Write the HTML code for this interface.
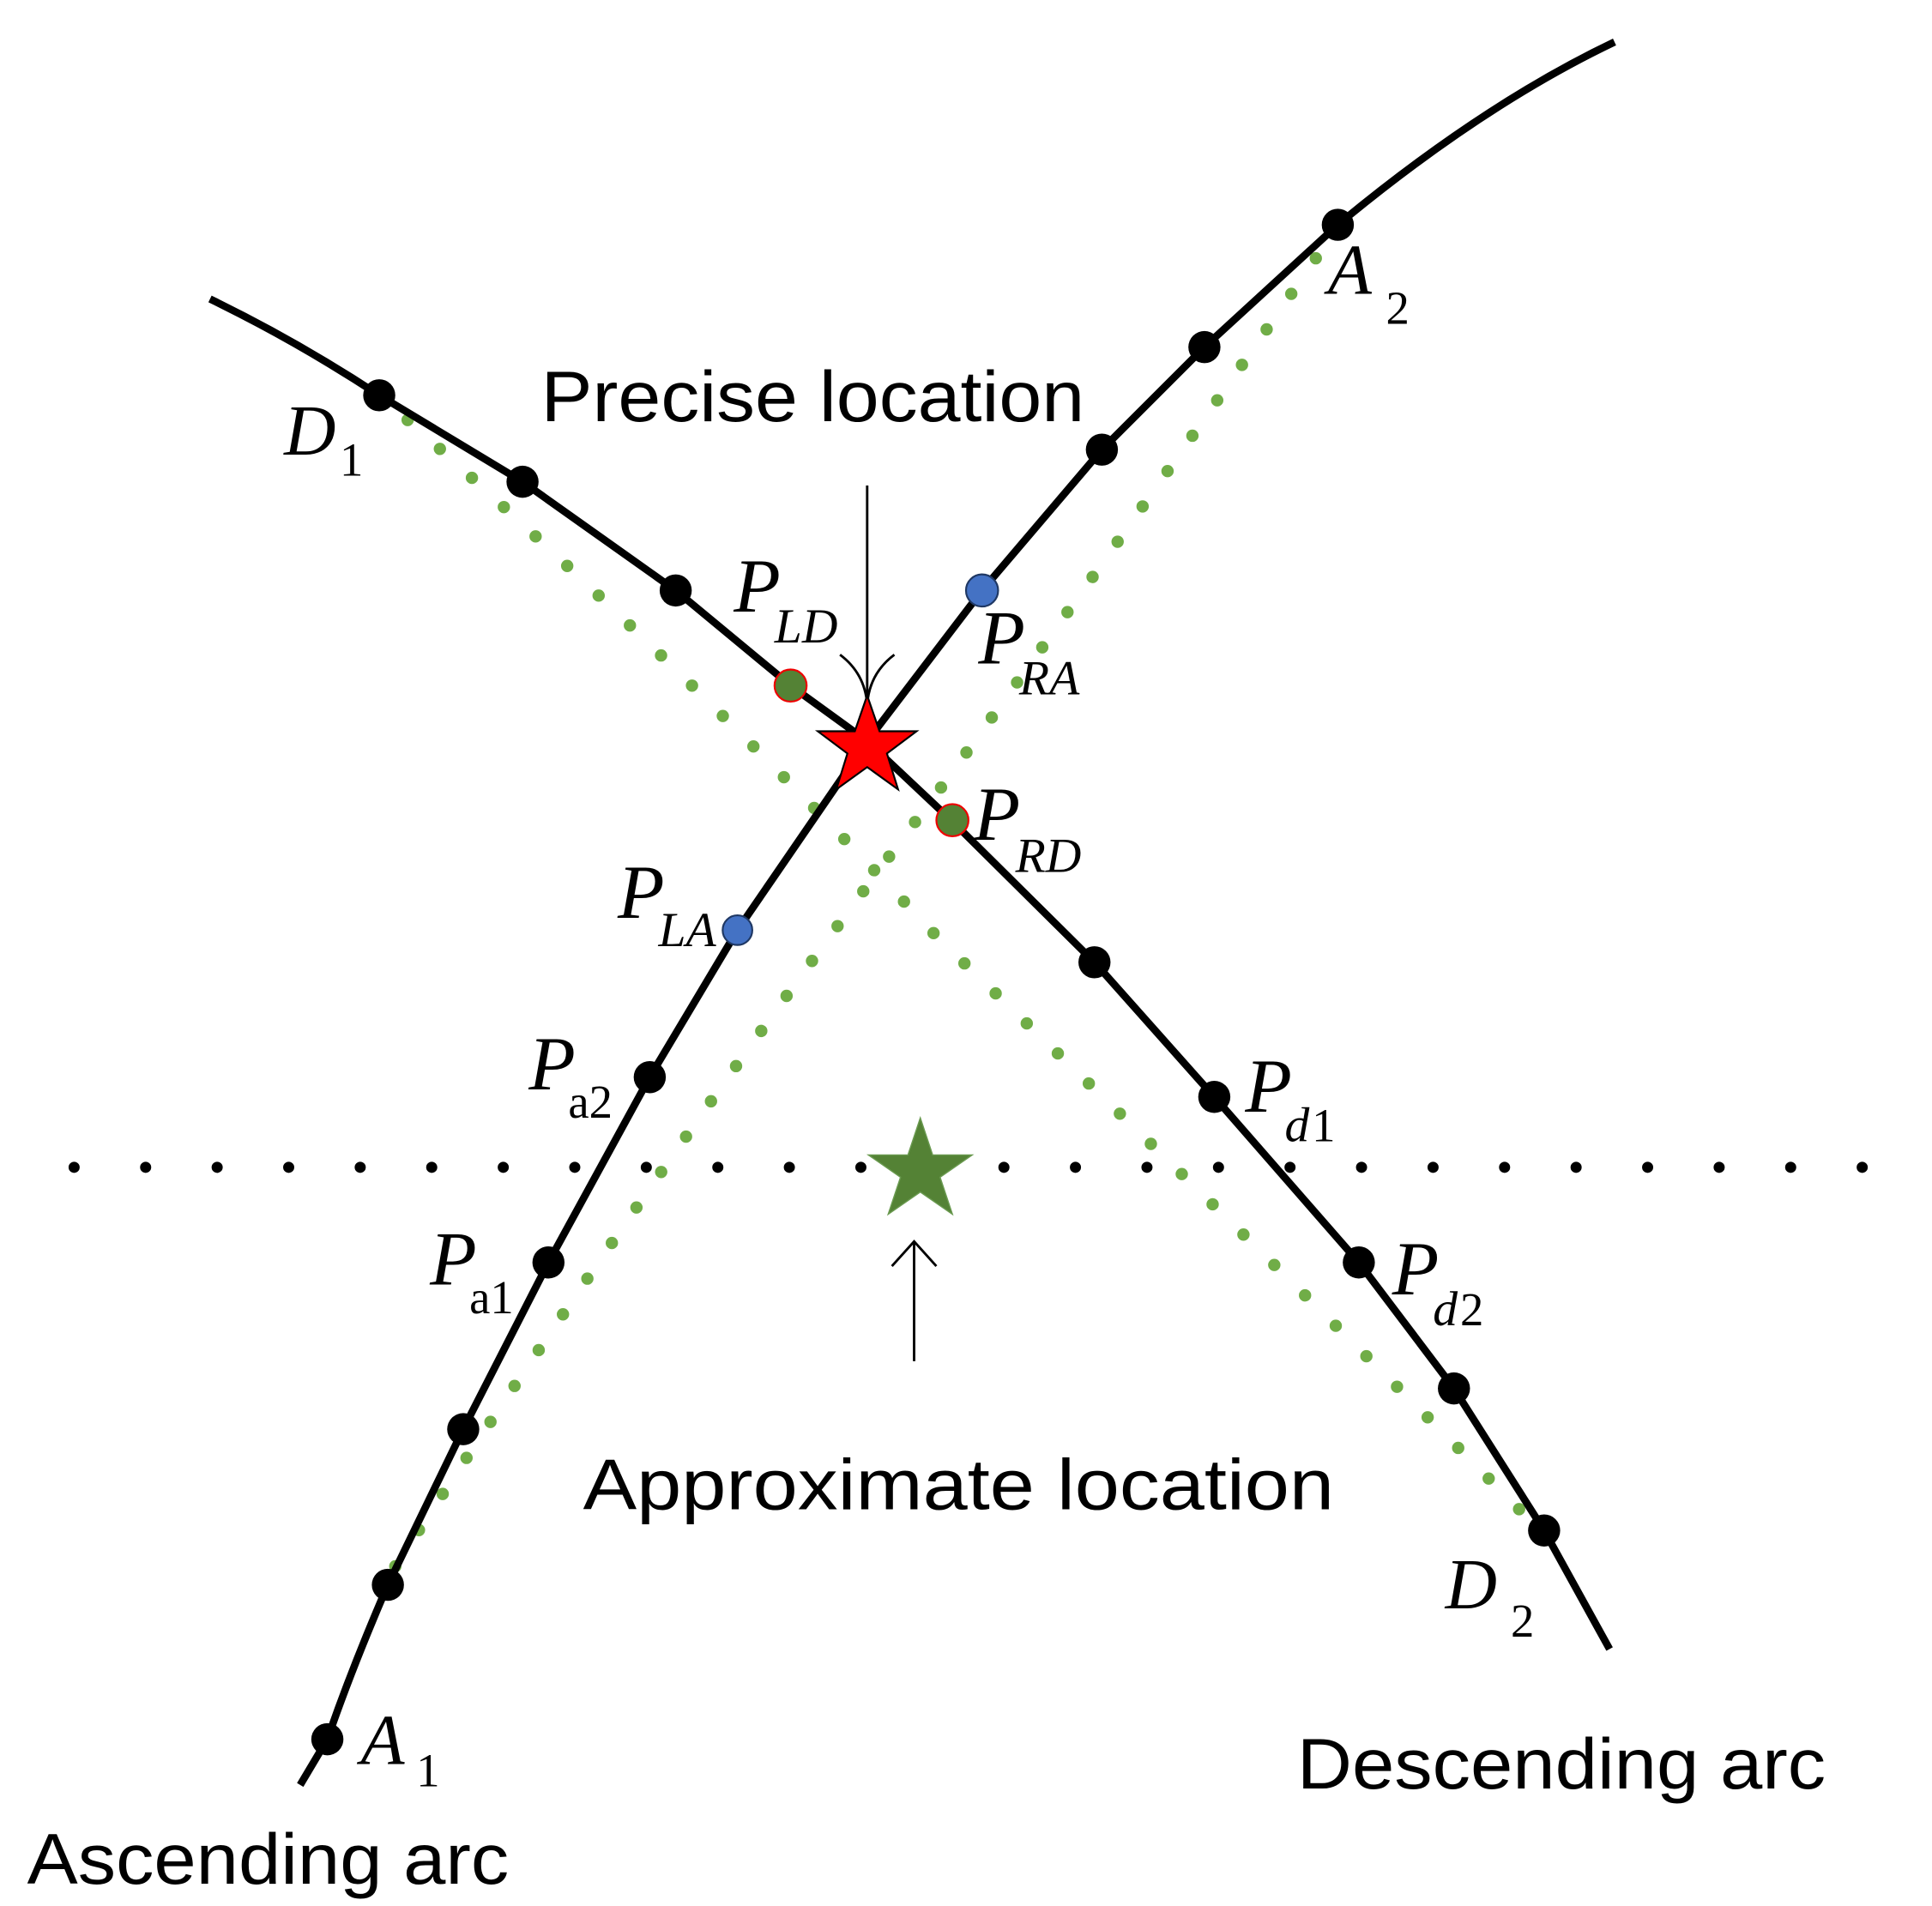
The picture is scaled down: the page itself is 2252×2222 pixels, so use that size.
<!DOCTYPE html>
<html><head><meta charset="utf-8"><style>
html,body{margin:0;padding:0;background:#fff;}
svg{display:block;}
.s{font-family:"Liberation Sans",sans-serif;fill:#000;}
.m{font-family:"Liberation Serif",serif;font-style:italic;fill:#000;}
.r{font-family:"Liberation Serif",serif;fill:#000;}
</style></head><body>
<svg width="2252" height="2222" viewBox="0 0 1564 1543" preserveAspectRatio="none" xmlns="http://www.w3.org/2000/svg">
<rect width="1564" height="1543" fill="#fff"/>
<!-- horizontal dotted line -->
<line x1="60" y1="945" x2="1515" y2="945" stroke="#000" stroke-width="9" stroke-linecap="round" stroke-dasharray="0 57.9"/>
<!-- green dotted lines -->
<path d="M330,340 Q560,545 760,760 Q1000,990 1230,1222" fill="none" stroke="#70ad47" stroke-width="10" stroke-linecap="round" stroke-dasharray="0 35"/>
<path d="M320,1268 Q540,930 760,640 Q920,420 1068,205" fill="none" stroke="#70ad47" stroke-width="10" stroke-linecap="round" stroke-dasharray="0 35"/>
<!-- arcs -->
<path d="M243,1445 L265,1408 Q285,1350 314,1283 L375,1157 L444,1022 L526,872 L597,753 L702,600 L795,478 L892,364 L975,281 L1083,182 Q1200,85 1307,34" fill="none" stroke="#000" stroke-width="6" stroke-linejoin="round"/>
<path d="M170,242 Q240,276 307,320 L423,390 L547,478 L640,555 L702,600 L770,664 L886,779 L983,888 L1100,1022 L1177,1124 L1250,1239 L1303,1335" fill="none" stroke="#000" stroke-width="6" stroke-linejoin="round"/>
<!-- black dots -->
<g fill="#000">
<circle cx="265" cy="1408" r="13"/><circle cx="314" cy="1283" r="13"/><circle cx="375" cy="1157" r="13"/>
<circle cx="444" cy="1022" r="13"/><circle cx="526" cy="872" r="13"/><circle cx="892" cy="364" r="13"/>
<circle cx="975" cy="281" r="13"/><circle cx="1083" cy="182" r="13"/>
<circle cx="307" cy="320" r="13"/><circle cx="423" cy="390" r="13"/><circle cx="547" cy="478" r="13"/>
<circle cx="886" cy="779" r="13"/><circle cx="983" cy="888" r="13"/><circle cx="1100" cy="1022" r="13"/>
<circle cx="1177" cy="1124" r="13"/><circle cx="1250" cy="1239" r="13"/>
</g>
<circle cx="795" cy="478" r="13" fill="#4472c4" stroke="#1f3864" stroke-width="1.5"/>
<circle cx="597" cy="753" r="12" fill="#4472c4" stroke="#1f3864" stroke-width="1.5"/>
<circle cx="640" cy="555" r="13" fill="#548235" stroke="#e00" stroke-width="1.5"/>
<circle cx="771" cy="664" r="13" fill="#548235" stroke="#e00" stroke-width="1.5"/>
<!-- arrows -->
<line x1="702" y1="393" x2="702" y2="570" stroke="#000" stroke-width="2"/>
<path d="M680,530 Q700,545 702,570 Q704,545 724,530" fill="none" stroke="#000" stroke-width="2"/>
<line x1="740" y1="1102" x2="740" y2="1005" stroke="#000" stroke-width="2"/>
<path d="M722,1025 L740,1005 L758,1025" fill="none" stroke="#000" stroke-width="2"/>
<!-- stars -->
<polygon points="702,563 712,592 742,592 718,610 727,639 702,621 677,639 686,610 662,592 692,592" fill="#f00" stroke="#000" stroke-width="1.5"/>
<polygon points="745,905 755,935 787,935 761,953 771,983 745,965 719,983 729,953 703,935 735,935" fill="#548235" stroke="#6a9a50" stroke-width="1"/>
<!-- texts -->
<text class="s" x="438" y="341" font-size="58" textLength="440" lengthAdjust="spacingAndGlyphs">Precise location</text>
<text class="s" x="472" y="1222" font-size="58" textLength="608" lengthAdjust="spacingAndGlyphs">Approximate location</text>
<text class="s" x="1050" y="1448" font-size="58" textLength="428" lengthAdjust="spacingAndGlyphs">Descending arc</text>
<text class="s" x="22" y="1525" font-size="58" textLength="390" lengthAdjust="spacingAndGlyphs">Ascending arc</text>
<text class="m" x="230" y="368" font-size="58">D</text><text class="r" x="275" y="385" font-size="38">1</text>
<text class="m" x="1075" y="238" font-size="58">A</text><text class="r" x="1122" y="262" font-size="38">2</text>
<text class="m" x="292" y="1428" font-size="58">A</text><text class="r" x="337" y="1446" font-size="38">1</text>
<text class="m" x="1170" y="1302" font-size="58">D</text><text class="r" x="1223" y="1325" font-size="38">2</text>
<text class="m" x="594" y="495" font-size="62">P</text><text class="m" x="627" y="520" font-size="40">LD</text>
<text class="m" x="792" y="537" font-size="62">P</text><text class="m" x="825" y="562" font-size="40">RA</text>
<text class="m" x="788" y="680" font-size="62">P</text><text class="m" x="822" y="706" font-size="40">RD</text>
<text class="m" x="500" y="743" font-size="62">P</text><text class="m" x="533" y="766" font-size="40">LA</text>
<text class="m" x="428" y="882" font-size="62">P</text><text class="r" x="460" y="905" font-size="38">a2</text>
<text class="m" x="348" y="1040" font-size="62">P</text><text class="r" x="380" y="1063" font-size="38">a1</text>
<text class="m" x="1008" y="900" font-size="62">P</text><text class="m" x="1040" y="924" font-size="40">d</text><text class="r" x="1062" y="924" font-size="38">1</text>
<text class="m" x="1127" y="1048" font-size="62">P</text><text class="m" x="1160" y="1073" font-size="40">d</text><text class="r" x="1182" y="1073" font-size="38">2</text>
</svg>
</body></html>
